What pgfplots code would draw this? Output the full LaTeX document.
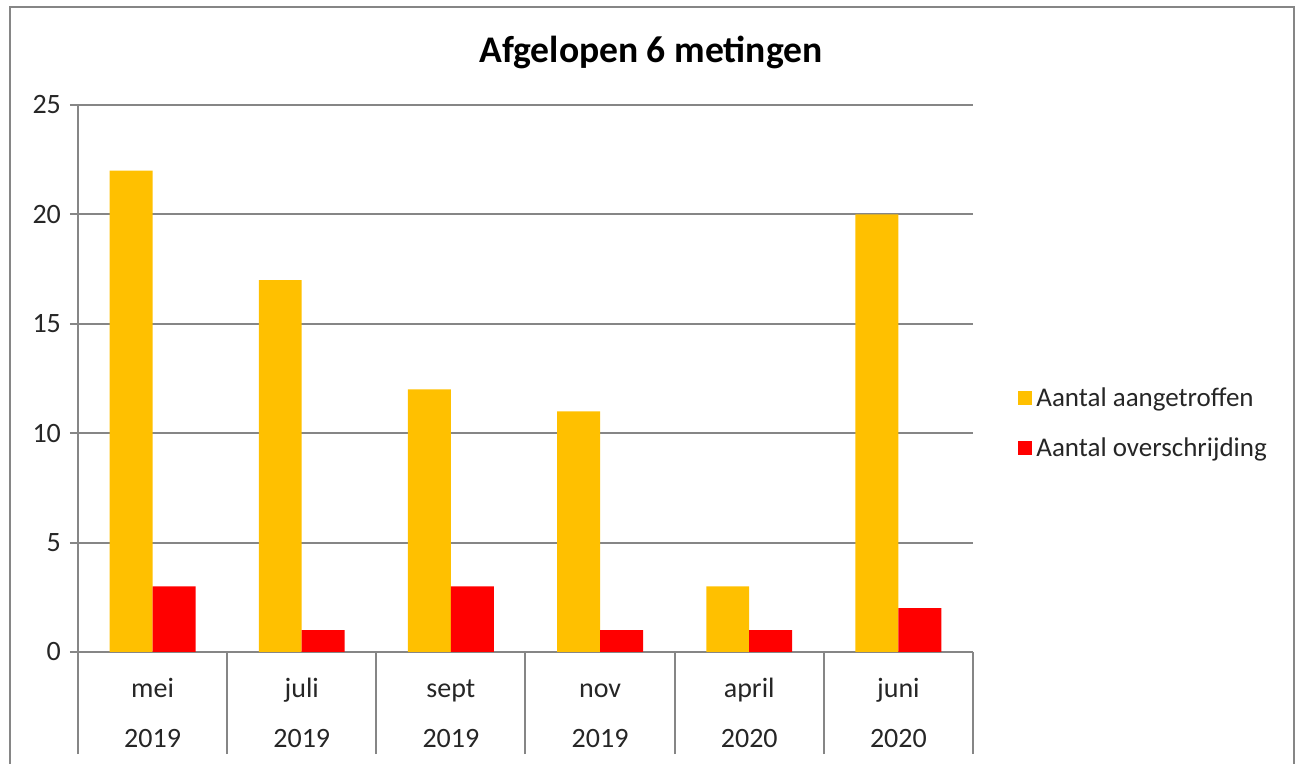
\documentclass[border=0pt]{standalone}
\usepackage{pgfplots}
\pgfplotsset{compat=1.18}
\usepackage{fontspec}
\setmainfont{Carlito}
\definecolor{cyel}{HTML}{FFC000}
\definecolor{cred}{HTML}{FF0000}
\definecolor{cgr}{HTML}{868686}
\newcommand{\tl}[2]{\strut #1\\[8pt]\strut #2}
\begin{document}
\begin{tikzpicture}
\path[use as bounding box] (0,0) rectangle (650pt,382pt);
\draw[cgr,line width=1.3pt] (5pt,-10pt) -- (5pt,378.5pt) -- (647pt,378.5pt) -- (647pt,-10pt);
\node[anchor=base,font=\fontsize{18.8}{22}\selectfont\bfseries] at (325.5pt,350.5pt) {Afgelopen 6 metingen};
\begin{axis}[
  at={(39pt,56pt)}, anchor=south west,
  scale only axis, width=447.5pt, height=273.5pt,
  xmin=-0.5, xmax=5.5, ymin=0, ymax=25,
  ybar=0pt, bar width=0.288,
  axis x line*=bottom, axis y line*=left,
  axis line style={cgr,line width=1pt,-},
  ytick={0,5,...,25},
  xtick={0,...,5},
  xticklabels={{\tl{mei}{2019}},{\tl{juli}{2019}},{\tl{sept}{2019}},{\tl{nov}{2019}},{\tl{april}{2020}},{\tl{juni}{2020}}},
  minor xtick={-0.5,0.5,...,5.5},
  tick align=outside,
  major tick length=4pt, minor tick length=51pt,
  major x tick style={draw=none},
  minor x tick style={cgr,line width=1pt},
  y tick style={cgr,line width=1pt},
  ymajorgrids, major grid style={cgr,line width=1pt},
  /pgf/number format/assume math mode=true,
  tick label style={font=\fontsize{14}{17}\selectfont,text=black!85},
  xticklabel style={align=center,yshift=-3.5pt},
  yticklabel style={xshift=-1pt},
  legend style={at={(rel axis cs:1.0436,0.418)},anchor=west,draw=none,fill=none,
    font=\fontsize{13.5}{16}\selectfont,text=black!85,row sep=10pt,
    /tikz/every even column/.append style={column sep=0pt}},
  legend cell align=left,
  legend image code/.code={\fill[#1] (0pt,-3.5pt) rectangle (7pt,3.5pt);},
]
\addplot[fill=cyel,draw=none] coordinates {(0,22) (1,17) (2,12) (3,11) (4,3) (5,20)};
\addplot[fill=cred,draw=none] coordinates {(0,3) (1,1) (2,3) (3,1) (4,1) (5,2)};
\legend{Aantal aangetroffen,Aantal overschrijding}
\end{axis}
\end{tikzpicture}
\end{document}
